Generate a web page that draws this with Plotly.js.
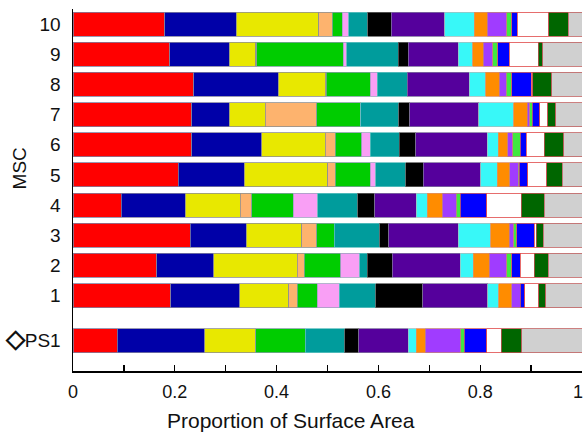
<!DOCTYPE html>
<html>
<head>
<meta charset="utf-8">
<script src="https://cdn.plot.ly/plotly-3.0.1.min.js"></script>
<style>html,body{margin:0;padding:0;background:#fff;}</style>
</head>
<body>
<div id="chart" style="width:584px;height:433px;"></div>
<script>
// Categories (bottom to top)
var categories = ["\u25C7PS1", "1", "2", "3", "4", "5", "6", "7", "8", "9", "10"];

// Proportion of surface area per component, in category order above
var red     = [0.087, 0.192, 0.165, 0.230, 0.095, 0.207, 0.233, 0.233, 0.237, 0.190, 0.180];
var navy    = [0.172, 0.136, 0.112, 0.110, 0.126, 0.129, 0.138, 0.074, 0.166, 0.117, 0.141];
var yellow  = [0.100, 0.096, 0.164, 0.109, 0.108, 0.164, 0.125, 0.071, 0.093, 0.052, 0.162];
var peach   = [0.000, 0.017, 0.013, 0.030, 0.022, 0.015, 0.019, 0.101, 0.002, 0.002, 0.026];
var green   = [0.097, 0.039, 0.072, 0.034, 0.082, 0.069, 0.052, 0.086, 0.086, 0.170, 0.020];
var pink    = [0.000, 0.043, 0.037, 0.000, 0.048, 0.011, 0.017, 0.000, 0.014, 0.007, 0.013];
var teal    = [0.078, 0.072, 0.015, 0.090, 0.078, 0.059, 0.057, 0.075, 0.059, 0.101, 0.037];
var black   = [0.027, 0.092, 0.049, 0.017, 0.034, 0.034, 0.032, 0.022, 0.000, 0.020, 0.046];
var purple  = [0.098, 0.128, 0.134, 0.137, 0.081, 0.113, 0.141, 0.135, 0.121, 0.098, 0.105];
var cyan    = [0.015, 0.021, 0.025, 0.064, 0.022, 0.032, 0.021, 0.069, 0.033, 0.028, 0.058];
var orange  = [0.018, 0.026, 0.032, 0.036, 0.029, 0.025, 0.019, 0.026, 0.026, 0.021, 0.026];
var violet  = [0.070, 0.017, 0.034, 0.009, 0.028, 0.017, 0.010, 0.005, 0.014, 0.019, 0.038];
var lime    = [0.007, 0.000, 0.010, 0.006, 0.008, 0.002, 0.015, 0.005, 0.011, 0.009, 0.010];
var blue    = [0.044, 0.009, 0.017, 0.034, 0.052, 0.016, 0.011, 0.015, 0.038, 0.023, 0.011];
var white   = [0.028, 0.027, 0.027, 0.004, 0.068, 0.038, 0.036, 0.016, 0.003, 0.057, 0.062];
var dkgreen = [0.041, 0.014, 0.028, 0.014, 0.045, 0.030, 0.038, 0.015, 0.038, 0.009, 0.038];
var gray    = [0.118, 0.071, 0.066, 0.076, 0.074, 0.039, 0.036, 0.052, 0.059, 0.077, 0.027];

// X tick labels
var xTickVals = [0, 0.1, 0.2, 0.3, 0.4, 0.5, 0.6, 0.7, 0.8, 0.9, 1];
var xTickText = ["0", "", "0.2", "", "0.4", "", "0.6", "", "0.8", "", "1"];

var series = [
  {x: red,     c: "#ff0000", e: "#8080a0"},
  {x: navy,    c: "#0000a8", e: "#8080a0"},
  {x: yellow,  c: "#e8e800", e: "#909090"},
  {x: peach,   c: "#fdb36e", e: "#909090"},
  {x: green,   c: "#00cc00", e: "#80a0a0"},
  {x: pink,    c: "#f99ff5", e: "#a0a0c0"},
  {x: teal,    c: "#009c9c", e: "#60c0c0"},
  {x: black,   c: "#000000", e: "#606060"},
  {x: purple,  c: "#55009c", e: "#8070a0"},
  {x: cyan,    c: "#38f8f8", e: "#a0c0c0"},
  {x: orange,  c: "#ff8c00", e: "#e09060"},
  {x: violet,  c: "#a03cff", e: "#c08080"},
  {x: lime,    c: "#40e840", e: "#c08080"},
  {x: blue,    c: "#0000ff", e: "#d06060"},
  {x: white,   c: "#ffffff", e: "#e04848"},
  {x: dkgreen, c: "#006600", e: "#c05050"},
  {x: gray,    c: "#d0d0d0", e: "#c06060"}
];

// vertical layout: PS1 sits 1.5 units below bar "1"
var yPos = categories.map(function (c, i) { return i === 0 ? -0.5 : i; });
// enlarge the diamond glyph in the PS1 label
var yLabels = categories.map(function (c) {
  return c.replace("\u25C7", "<span style=\"font-size:25px;font-weight:bold\">\u25C7</span>");
});

var traces = series.map(function (s) {
  return {
    type: "bar",
    orientation: "h",
    x: s.x,
    y: yPos,
    width: 0.8,
    marker: {color: s.c, line: {color: s.e, width: 0.8}},
    hoverinfo: "x",
    showlegend: false
  };
});

// last x tick label is drawn as an annotation pulled just inside the right edge
var lastIdx = xTickVals.length - 1;
var axisTickText = xTickText.map(function (t, i) { return i === lastIdx ? "" : t; });

var layout = {
  width: 584,
  height: 433,
  margin: {l: 73, r: 2, t: 9, b: 62},
  paper_bgcolor: "#ffffff",
  plot_bgcolor: "#ffffff",
  barmode: "stack",
  showlegend: false,
  font: {family: "Liberation Sans, Arial, sans-serif", color: "#000"},
  xaxis: {
    range: [0, 1],
    tickvals: xTickVals,
    ticktext: axisTickText,
    ticks: "inside",
    ticklen: 6,
    tickwidth: 1.2,
    tickcolor: "#000",
    showline: true,
    linecolor: "#000",
    linewidth: 1.5,
    showgrid: false,
    zeroline: false,
    tickfont: {size: 18, color: "#111"},
    ticklabelstandoff: 4,
    automargin: false
  },
  yaxis: {
    range: [-1.5, 10.5],
    tickvals: yPos,
    ticktext: yLabels,
    ticks: "",
    showline: true,
    linecolor: "#000",
    linewidth: 1.5,
    showgrid: false,
    zeroline: false,
    tickfont: {size: 19, color: "#111"},
    ticklabelstandoff: 7,
    automargin: false
  },
  annotations: [
    {
      text: xTickText[lastIdx],
      xref: "x", yref: "paper",
      x: xTickVals[lastIdx], y: -0.058,
      xanchor: "right", yanchor: "middle",
      xshift: 3,
      showarrow: false,
      font: {size: 18, color: "#111"}
    },
    {
      text: "Proportion of Surface Area",
      xref: "paper", yref: "paper",
      x: 0.429, y: -0.138,
      xanchor: "center", yanchor: "middle",
      showarrow: false,
      font: {size: 21, color: "#111"}
    },
    {
      text: "MSC",
      xref: "paper", yref: "y",
      x: -0.105, y: 5.2,
      xanchor: "center", yanchor: "middle",
      textangle: -90,
      showarrow: false,
      font: {size: 19, color: "#111"}
    }
  ]
};

Plotly.newPlot("chart", traces, layout, {displayModeBar: false, staticPlot: true});
</script>
</body>
</html>
